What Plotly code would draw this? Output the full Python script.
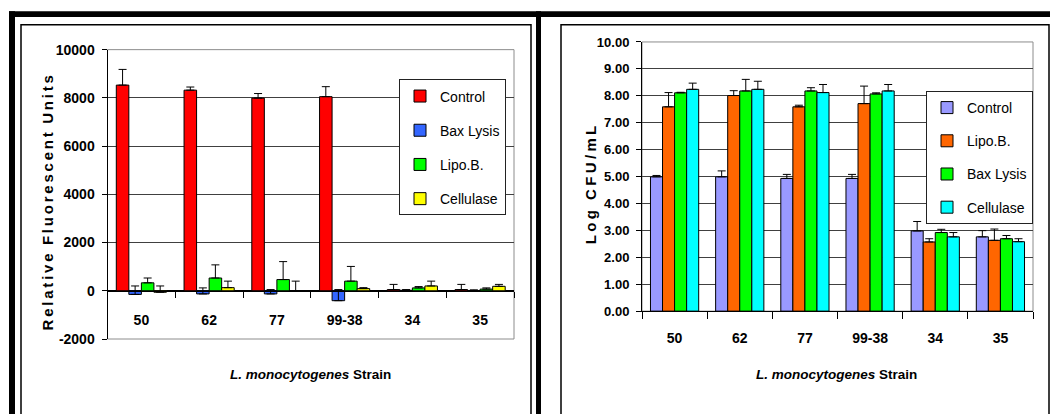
import plotly.graph_objects as go

# ---------------- data ----------------
strains = ["50", "62", "77", "99-38", "34", "35"]

# Left panel: Relative Fluorescent Units
rfu_series = ["Control", "Bax Lysis", "Lipo.B.", "Cellulase"]
rfu_control = [8530, 8320, 7990, 8050, 50, 50]
rfu_control_err = [650, 130, 190, 415, 215, 215]
rfu_bax = [-150, -130, -130, -410, 20, 0]
rfu_bax_err = [350, 250, 180, 460, 30, 40]
rfu_lipo = [330, 530, 465, 400, 120, 70]
rfu_lipo_err = [200, 545, 745, 610, 55, 50]
rfu_cell = [-60, 130, 0, 90, 200, 185]
rfu_cell_err = [260, 270, 400, 40, 200, 80]
rfu_ticks = [-2000, 0, 2000, 4000, 6000, 8000, 10000]
rfu_ticktext = ["-2000", "0", "2000", "4000", "6000", "8000", "10000"]

# Right panel: Log CFU/mL
cfu_series = ["Control", "Lipo.B.", "Bax Lysis", "Cellulase"]
cfu_control = [4.99, 4.99, 4.93, 4.93, 2.98, 2.76]
cfu_control_err = [0.05, 0.22, 0.15, 0.15, 0.35, 0.23]
cfu_lipo = [7.59, 8.01, 7.59, 7.71, 2.57, 2.63]
cfu_lipo_err = [0.53, 0.18, 0.06, 0.65, 0.12, 0.42]
cfu_bax = [8.11, 8.18, 8.18, 8.07, 2.92, 2.69]
cfu_bax_err = [0.02, 0.43, 0.12, 0.04, 0.12, 0.12]
cfu_cell = [8.24, 8.24, 8.12, 8.18, 2.76, 2.58]
cfu_cell_err = [0.23, 0.30, 0.30, 0.24, 0.16, 0.11]
cfu_ticks = [0, 1, 2, 3, 4, 5, 6, 7, 8, 9, 10]

rfu_colors = ["#FF0000", "#3366FF", "#00FF00", "#FFFF00"]
cfu_colors = ["#9999FF", "#FF6600", "#00FF00", "#00FFFF"]

W, H = 1058, 414
OFF = 8  # default page body margin of the html page
FONT = "Liberation Sans, Arial, sans-serif"


def px(x):
    return (x - OFF) / W


def py(y):
    return 1 - (y - OFF) / H


def spaced(text, gap_size):
    g = f'<span style="font-size:{gap_size}px"> </span>'
    return (g * 3).join(g.join(word) for word in text.split(" "))


fig = go.Figure()

rfu_vals = [rfu_control, rfu_bax, rfu_lipo, rfu_cell]
rfu_errs = [rfu_control_err, rfu_bax_err, rfu_lipo_err, rfu_cell_err]
for name, vals, errs, col in zip(rfu_series, rfu_vals, rfu_errs, rfu_colors):
    fig.add_trace(go.Bar(
        x=strains, y=vals, name=name, marker=dict(color=col, line=dict(color="black", width=1)),
        error_y=dict(type="data", array=errs, arrayminus=[0] * len(errs), symmetric=False,
                     color="black", thickness=1, width=4),
        xaxis="x", yaxis="y", legend="legend", legendgroup="L" + name,
    ))

cfu_vals = [cfu_control, cfu_lipo, cfu_bax, cfu_cell]
cfu_errs = [cfu_control_err, cfu_lipo_err, cfu_bax_err, cfu_cell_err]
for name, vals, errs, col in zip(cfu_series, cfu_vals, cfu_errs, cfu_colors):
    fig.add_trace(go.Bar(
        x=strains, y=vals, name=name, marker=dict(color=col, line=dict(color="black", width=1)),
        error_y=dict(type="data", array=errs, arrayminus=[0] * len(errs), symmetric=False,
                     color="black", thickness=1, width=4),
        xaxis="x2", yaxis="y2", legend="legend2", legendgroup="R" + name,
    ))

# plot-area geometry (pixels in the screenshot)
L_x0, L_x1, L_ytop, L_ybot = 107.5, 514, 43, 344
R_x0, R_x1, R_ytop, R_ybot = 642, 1033, 35, 315

zero_pos = py(L_ybot) + (py(L_ytop) - py(L_ybot)) * (2000 / 12000)

cat_font = dict(family=FONT, size=14, color="black", weight="bold")

fig.update_layout(
    width=W, height=H, margin=dict(l=0, r=0, t=0, b=0),
    paper_bgcolor="white", plot_bgcolor="white",
    barmode="group", bargap=0.26, bargroupgap=0,
    xaxis=dict(domain=[px(L_x0), px(L_x1)], anchor="free", position=zero_pos,
               type="category", showline=True, linecolor="black", linewidth=1,
               ticks="outside", tickson="boundaries", ticklen=6, tickcolor="black",
               showgrid=False, tickfont=cat_font, ticklabelstandoff=16),
    yaxis=dict(domain=[py(L_ybot), py(L_ytop)], anchor="x", range=[-2000, 10000],
               tickvals=rfu_ticks, ticktext=rfu_ticktext,
               showline=True, linecolor="black", linewidth=1,
               ticks="outside", ticklen=5, tickcolor="black",
               showgrid=True, gridcolor="#404040", gridwidth=1,
               zeroline=True, zerolinecolor="black", zerolinewidth=1,
               tickfont=dict(family=FONT, size=14, color="black", weight="bold"),
               ticklabelstandoff=4),
    xaxis2=dict(domain=[px(R_x0), px(R_x1)], anchor="y2",
                type="category", showline=True, linecolor="black", linewidth=1,
                ticks="outside", tickson="boundaries", ticklen=7, tickcolor="black",
                showgrid=False, tickfont=cat_font, ticklabelstandoff=14),
    yaxis2=dict(domain=[py(R_ybot), py(R_ytop)], anchor="x2", range=[0, 10],
                tickvals=cfu_ticks, tickformat=".2f",
                showline=True, linecolor="black", linewidth=1,
                ticks="outside", ticklen=5, tickcolor="black",
                showgrid=True, gridcolor="#404040", gridwidth=1,
                zeroline=False,
                tickfont=dict(family=FONT, size=13, color="black", weight="bold"),
                ticklabelstandoff=4),
    legend=dict(x=px(399), y=py(74), xanchor="left", yanchor="top",
                bgcolor="white", bordercolor="#222222", borderwidth=1,
                font=dict(family=FONT, size=14, color="black"),
                tracegroupgap=13, traceorder="grouped"),
    legend2=dict(x=px(926), y=py(86), xanchor="left", yanchor="top",
                 bgcolor="white", bordercolor="#222222", borderwidth=1,
                 font=dict(family=FONT, size=14, color="black"),
                 tracegroupgap=12, traceorder="grouped"),
    showlegend=True,
)

shapes = []
# plot area frames (gray)
for xr, yr in [("x", "y"), ("x2", "y2")]:
    shapes.append(dict(type="rect", xref=f"{xr} domain", yref=f"{yr} domain", x0=0, x1=1, y0=0, y1=1,
                       line=dict(color="#8c8c8c", width=1), layer="below"))

# outer thick black frame
for (x0, x1, y0, y1) in [(9, 1070, 3, 9), (9, 15, 3, 430), (536, 541, 3, 430), (1053, 1070, 3, 430)]:
    shapes.append(dict(type="rect", xref="paper", yref="paper", x0=px(x0), x1=px(x1), y0=py(y1), y1=py(y0),
                       fillcolor="black", line=dict(width=0)))
# thin panel borders
for (x0, x1) in [(21, 531), (561, 1049)]:
    shapes.append(dict(type="rect", xref="paper", yref="paper", x0=px(x0), x1=px(x1), y0=py(440), y1=py(17),
                       line=dict(color="black", width=1.5)))
fig.update_layout(shapes=shapes)

title_font = dict(family=FONT, size=15, color="black", weight="bold")
xtitle_font = dict(family=FONT, size=13.5, color="black", weight="bold")
annotations = [
    dict(text=spaced("Relative Fluorescent Units", 10), x=px(47), y=py(203),
         xref="paper", yref="paper", textangle=-90, showarrow=False, font=title_font,
         xanchor="center", yanchor="middle"),
    dict(text=spaced("Log CFU/mL", 12), x=px(590.5), y=py(183.5),
         xref="paper", yref="paper", textangle=-90, showarrow=False, font=title_font,
         xanchor="center", yanchor="middle"),
    dict(text="<i>L. monocytogenes</i> Strain", x=px(310), y=py(381),
         xref="paper", yref="paper", showarrow=False, font=xtitle_font,
         xanchor="center", yanchor="middle"),
    dict(text="<i>L. monocytogenes</i> Strain", x=px(836.5), y=py(381),
         xref="paper", yref="paper", showarrow=False, font=xtitle_font,
         xanchor="center", yanchor="middle"),
]
fig.update_layout(annotations=annotations)

fig.write_html("out.html")
